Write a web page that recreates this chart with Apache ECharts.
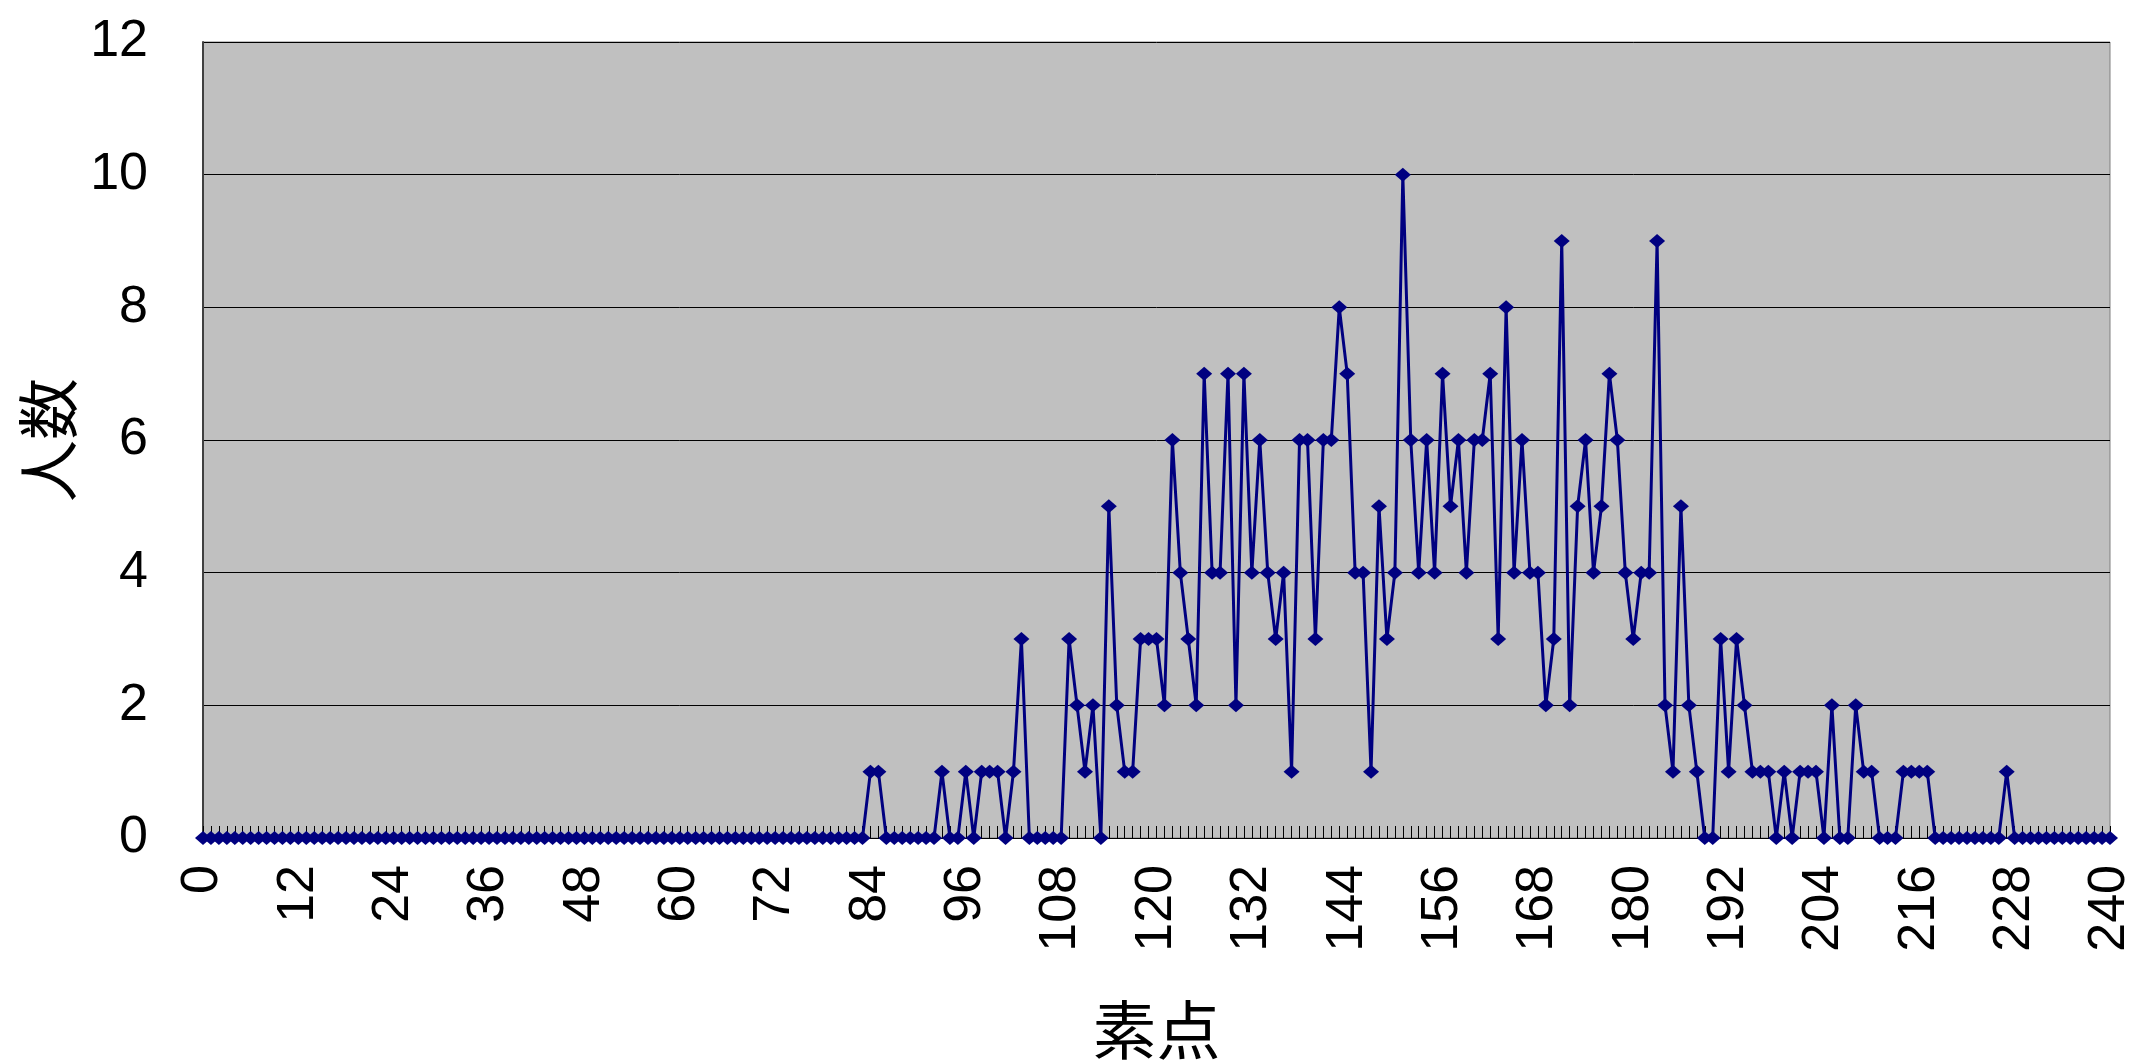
<!DOCTYPE html>
<html>
<head>
<meta charset="utf-8">
<script src="https://cdn.jsdelivr.net/npm/echarts@6/dist/echarts.min.js"></script>
<style>
  html, body { margin: 0; padding: 0; background: #fff; }
  #chart { width: 2141px; height: 1061px; }
</style>
</head>
<body>
<div id="chart"></div>
<script>
// 素点 0..240
const scoreMin = 0
const scoreMax = 240
const labelStep = 12

// 人数 per 素点 (index = score)
const counts = [
  0, 0, 0, 0, 0, 0, 0, 0, 0, 0, 0, 0,
  0, 0, 0, 0, 0, 0, 0, 0, 0, 0, 0, 0,
  0, 0, 0, 0, 0, 0, 0, 0, 0, 0, 0, 0,
  0, 0, 0, 0, 0, 0, 0, 0, 0, 0, 0, 0,
  0, 0, 0, 0, 0, 0, 0, 0, 0, 0, 0, 0,
  0, 0, 0, 0, 0, 0, 0, 0, 0, 0, 0, 0,
  0, 0, 0, 0, 0, 0, 0, 0, 0, 0, 0, 0,
  1, 1, 0, 0, 0, 0, 0, 0, 0, 1, 0, 0,
  1, 0, 1, 1, 1, 0, 1, 3, 0, 0, 0, 0,
  0, 3, 2, 1, 2, 0, 5, 2, 1, 1, 3, 3,
  3, 2, 6, 4, 3, 2, 7, 4, 4, 7, 2, 7,
  4, 6, 4, 3, 4, 1, 6, 6, 3, 6, 6, 8,
  7, 4, 4, 1, 5, 3, 4, 10, 6, 4, 6, 4,
  7, 5, 6, 4, 6, 6, 7, 3, 8, 4, 6, 4,
  4, 2, 3, 9, 2, 5, 6, 4, 5, 7, 6, 4,
  3, 4, 4, 9, 2, 1, 5, 2, 1, 0, 0, 3,
  1, 3, 2, 1, 1, 1, 0, 1, 0, 1, 1, 1,
  0, 2, 0, 0, 2, 1, 1, 0, 0, 0, 1, 1,
  1, 1, 0, 0, 0, 0, 0, 0, 0, 0, 0, 1,
  0, 0, 0, 0, 0, 0, 0, 0, 0, 0, 0, 0,
  0
]

const yMin = 0
const yMax = 12
const yStep = 2

const scores = []
for (let s = scoreMin; s <= scoreMax; s++) scores.push(String(s))

const numFont = 'Liberation Sans'
const jpFont = 'Noto Sans CJK JP'

const chart = echarts.init(document.getElementById('chart'))
chart.setOption({
  animation: false,
  backgroundColor: '#ffffff',
  grid: {
    left: 203,
    right: 31,
    top: 42,
    bottom: 223,
    outerBoundsMode: 'none',
    containLabel: false,
    show: true,
    backgroundColor: '#c0c0c0',
    borderColor: '#808080',
    borderWidth: 1
  },
  xAxis: {
    type: 'category',
    data: scores,
    boundaryGap: false,
    name: '素点',
    nameLocation: 'middle',
    nameGap: 160,
    nameTextStyle: { fontFamily: jpFont, fontSize: 64, color: '#000' },
    axisLine: { show: true, lineStyle: { color: '#000', width: 1 } },
    axisTick: {
      show: true,
      inside: true,
      length: 12,
      interval: 0,
      alignWithLabel: true,
      lineStyle: { color: '#000', width: 1 }
    },
    axisLabel: {
      interval: labelStep - 1,
      rotate: 90,
      margin: 27,
      fontFamily: numFont,
      fontSize: 52,
      color: '#000'
    },
    splitLine: { show: false }
  },
  yAxis: {
    type: 'value',
    min: yMin,
    max: yMax,
    interval: yStep,
    name: '人数',
    nameLocation: 'middle',
    nameGap: 124,
    nameTextStyle: { fontFamily: jpFont, fontSize: 62, color: '#000' },
    axisLine: { show: true, lineStyle: { color: '#404040', width: 2 } },
    axisTick: { show: false },
    axisLabel: {
      margin: 55,
      fontFamily: numFont,
      fontSize: 52,
      color: '#000'
    },
    splitLine: { show: true, lineStyle: { color: '#000', width: 1 } }
  },
  series: [
    {
      name: '人数',
      type: 'line',
      data: counts,
      symbol: 'diamond',
      symbolSize: [16, 14],
      showAllSymbol: true,
      lineStyle: { color: '#000080', width: 3 },
      itemStyle: { color: '#000080' }
    }
  ]
})
</script>
</body>
</html>
